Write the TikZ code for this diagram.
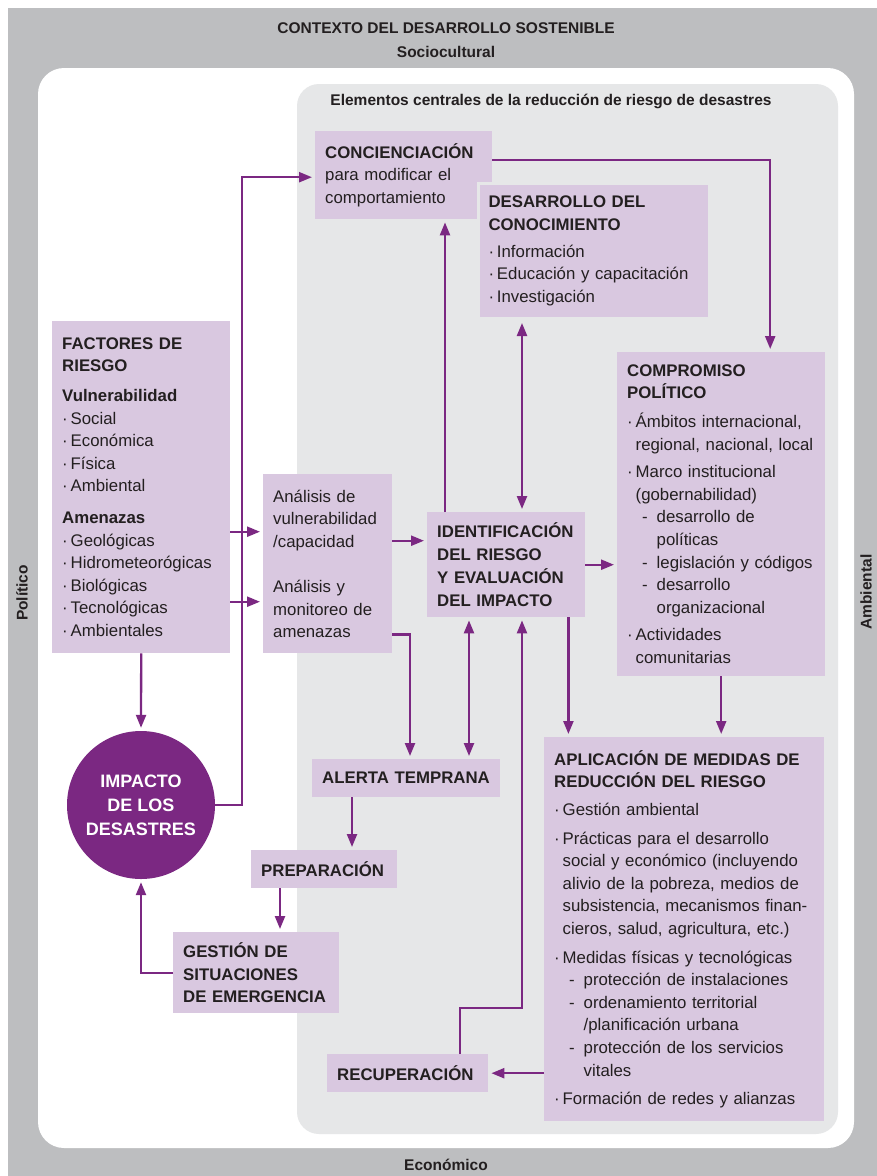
\documentclass[tikz,border=0pt]{standalone}
\usepackage{fontspec}
\setmainfont{Liberation Sans}
\usetikzlibrary{arrows.meta}
\definecolor{marco}{HTML}{BDBEC0}
\definecolor{nucleo}{HTML}{E6E7E8}
\definecolor{lila}{HTML}{D9C8E0}
\definecolor{morado}{HTML}{7B2882}
\definecolor{texto}{HTML}{231F20}
\hyphenpenalty=10000
\exhyphenpenalty=10000
\newcommand\boxfont{\fontsize{16.8}{22.6}\selectfont\hyphenpenalty=10000}
\newcommand\bul{\makebox[8.5pt][l]{·}}
\newcommand\bulin{\hspace*{8.5pt}}
\newcommand\dsh{\hspace*{15pt}\makebox[14.5pt][l]{-}}
\newcommand\dshin{\hspace*{29.5pt}}
\tikzset{punta/.tip={Triangle[length=13pt,width=10pt]}}

\begin{document}
\begin{tikzpicture}[x=1pt,y=-1pt,
  caja/.style={fill=lila, anchor=north west, align=left, inner xsep=10pt, inner ysep=0pt, font=\boxfont, text=texto},
  flecha/.style={draw=morado, line width=2.3pt, -punta, shorten >=3pt},
  doble/.style={draw=morado, line width=2.3pt, punta-punta, shorten >=3pt, shorten <=3pt},
  rotulo/.style={font=\fontsize{15.5}{18}\selectfont\bfseries, text=texto}]
\useasboundingbox (0,0) rectangle (877,1176);
\fill[marco] (8,8) rectangle (877,1176);
\fill[white, rounded corners=26pt] (38,68) rectangle (854,1148);
\fill[nucleo, rounded corners=22pt] (297,84) rectangle (838,1134);

\node[rotulo] (ctx) at (446,28) {CONTEXTO DEL DESARROLLO SOSTENIBLE};
\node[rotulo] (soc) at (446,52) {Sociocultural};
\node[rotulo] (eco) at (446,1165) {Económico};
\node[rotulo, rotate=90] (pol) at (22,593) {Político};
\node[rotulo, rotate=90] (amb) at (866,592) {Ambiental};
\node[rotulo] (elem) at (551,101) {Elementos centrales de la reducción de riesgo de desastres};

\node[caja, text width=157pt, minimum height=88pt] (conc) at (315,131) {\textbf{CONCIENCIACIÓN}\\para modificar el\\comportamiento};
\node[caja, text width=211pt, minimum height=135pt, draw=nucleo, line width=3pt] (desa) at (477,182) {\textbf{DESARROLLO DEL}\\\textbf{CONOCIMIENTO}\\[4pt]\bul Información\\\bul Educación y capacitación\\\bul Investigación};
\node[caja, text width=158pt, minimum height=332pt] (fact) at (52,321) {\textbf{FACTORES DE}\\\textbf{RIESGO}\\[7pt]\textbf{Vulnerabilidad}\\\bul Social\\\bul Económica\\\bul Física\\\bul Ambiental\\[9pt]\textbf{Amenazas}\\\bul Geológicas\\\bul Hidrometeorógicas\\\bul Biológicas\\\bul Tecnológicas\\\bul Ambientales};
\node[caja, text width=188pt, minimum height=324pt] (comp) at (617,352) {\textbf{COMPROMISO}\\\textbf{POLÍTICO}\\[6pt]\bul Ámbitos internacional,\\\bulin regional, nacional,~local\\[5pt]\bul Marco institucional\\\bulin (gobernabilidad)\\\dsh desarrollo de\\\dshin políticas\\\dsh legislación y códigos\\\dsh desarrollo\\\dshin organizacional\\[5pt]\bul Actividades\\\bulin comunitarias};
\node[caja, text width=109pt, minimum height=179pt] (anal) at (263,474) {Análisis de\\vulnerabilidad\\/capacidad\\[22.6pt]Análisis y\\monitoreo de\\amenazas};
\node[caja, text width=138pt, minimum height=105pt, font=\fontsize{16.8}{23}\selectfont\bfseries] (iden) at (427,512) {IDENTIFICACIÓN\\DEL RIESGO\\Y EVALUACIÓN\\DEL IMPACTO};
\node[circle, fill=morado, minimum size=148pt, inner sep=0pt, text=white, align=center, font=\fontsize{18}{24}\selectfont\bfseries] (imp) at (141,805) {IMPACTO\\DE LOS\\DESASTRES};
\node[caja, text width=168pt, minimum height=38pt, font=\boxfont\bfseries] (aler) at (312,759) {ALERTA~TEMPRANA};
\node[caja, text width=126pt, minimum height=38pt, font=\boxfont\bfseries] (prep) at (251,850) {PREPARACIÓN};
\node[caja, text width=146pt, minimum height=81pt, font=\boxfont\bfseries] (gest) at (173,932) {GESTIÓN DE\\SITUACIONES\\DE~EMERGENCIA};
\node[caja, text width=260pt, minimum height=384pt] (apli) at (544,737) {\textbf{APLICACIÓN DE MEDIDAS DE}\\\textbf{REDUCCIÓN DEL RIESGO}\\[5pt]\bul Gestión ambiental\\[6pt]\bul Prácticas para el desarrollo\\\bulin social y económico (incluyendo\\\bulin alivio de la pobreza, medios de\\\bulin subsistencia, mecanismos finan-\\\bulin cieros, salud, agricultura, etc.)\\[6pt]\bul Medidas físicas y tecnológicas\\\dsh protección de instalaciones\\\dsh ordenamiento territorial\\\dshin /planificación urbana\\\dsh protección de los servicios\\\dshin vitales\\[6pt]\bul Formación de redes y alianzas};
\node[caja, text width=141pt, minimum height=38pt, font=\boxfont\bfseries] (recu) at (327,1054) {RECUPERACIÓN};

\coordinate (c1) at ([xshift=49pt]comp.north);
\draw[flecha] ([yshift=-29pt]conc.north east) -| (c1);
\coordinate (c2) at ([xshift=18pt]iden.north west);
\draw[flecha] (c2) -- (c2 |- conc.south);
\coordinate (c3) at ([xshift=45pt]desa.south west);
\draw[doble] (c3) -- (c3 |- iden.north);
\coordinate (c4) at ([yshift=32pt]anal.west);
\coordinate (c5) at ([yshift=-38pt]anal.west);
\draw[flecha] (c4 -| fact.east) -- (c4);
\draw[flecha] (c5 -| fact.east) -- (c5);
\coordinate (c6) at ([yshift=24pt]iden.west);
\draw[flecha] (c6 -| anal.east) -- (c6);
\draw[flecha] (iden.east) -- (iden.east -| comp.west);
\coordinate (c7) at ([xshift=98pt]aler.north west);
\draw[flecha] ([yshift=19pt]anal.south east) -| (c7);
\coordinate (c8) at ([xshift=42pt]iden.south west);
\draw[doble] (c8) -- (c8 |- aler.north);
\coordinate (c9) at ([xshift=95pt]iden.south west);
\draw[flecha] ([xshift=133pt]recu.north west) -- ++(0,-46) -| (c9);
\coordinate (c10) at ([xshift=-17pt]iden.south east);
\draw[flecha] (c10) -- (c10 |- apli.north);
\draw[flecha] (comp.south) -- (comp.south |- apli.north);
\draw[flecha] (recu.east -| apli.west) -- (recu.east);
\draw[flecha] (fact.south) -- (imp.north);
\draw[flecha] (imp.east) -- ++(27,0) |- ([yshift=-2pt]conc.west);
\coordinate (c11) at ([xshift=40pt]aler.south west);
\draw[flecha] (c11) -- (c11 |- prep.north);
\coordinate (c12) at ([xshift=29pt]prep.south west);
\draw[flecha] (c12) -- (c12 |- gest.north);
\draw[flecha] (gest.west) -| (imp.south);
\end{tikzpicture}
\end{document}
